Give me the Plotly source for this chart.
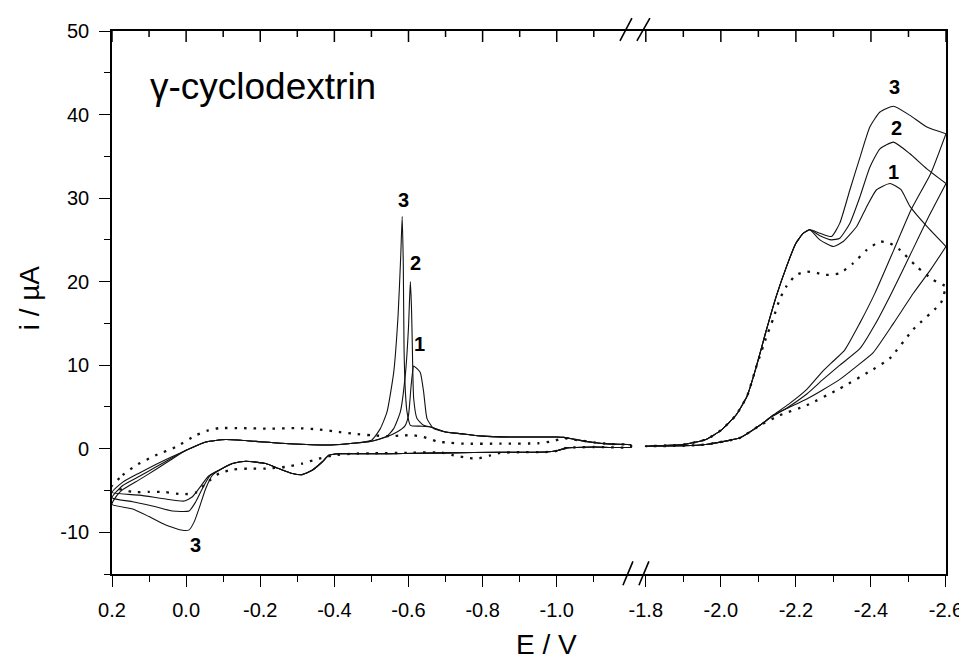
import plotly.graph_objects as go

# ---------------- data (E / V, i / uA) ----------------
# Left window: 0.2 .. -1.2 V  (upper branch = negative-going scan, lower branch = return)
E_L1_UP = [0.2, 0.171, 0.126, 0.082, 0.04, 0.0, -0.053, -0.107, -0.188, -0.277, -0.39, -0.45, -0.5, -0.54, -0.569, -0.59,
           -0.6, -0.607, -0.614, -0.62, -0.632, -0.641, -0.65, -0.668, -0.7, -0.75, -0.8, -0.88, -0.97, -1.0, -1.018,
           -1.04, -1.063, -1.1, -1.15, -1.2]
I_L1_UP = [-5.24, -4.0, -2.9, -1.9, -1.0, -0.2, 0.8, 1.1, 0.87, 0.6, 0.45, 0.65, 0.9, 1.4, 2.0, 2.7,
           4.0, 7.5, 9.9, 9.7, 9.1, 6.75, 3.6, 2.4, 2.0, 1.75, 1.5, 1.4, 1.4, 1.4, 1.35,
           1.2, 1.0, 0.75, 0.55, 0.45]
E_L1_DN = [-1.2, -1.1, -1.05, -1.027, -1.0, -0.97, -0.85, -0.7, -0.55, -0.45, -0.412, -0.385, -0.367, -0.34, -0.313,
           -0.287, -0.25, -0.215, -0.161, -0.125, -0.089, -0.06, -0.035, -0.017, 0.005, 0.055, 0.126, 0.2]
I_L1_DN = [0.2, 0.2, 0.15, 0.1, -0.25, -0.4, -0.42, -0.5, -0.6, -0.6, -0.6, -0.79, -1.59, -2.58, -3.1,
           -2.97, -2.38, -1.78, -1.5, -1.78, -2.58, -3.3, -4.76, -5.75, -6.27, -6.03, -5.56, -5.24]

E_L2_UP = [0.2, 0.171, 0.126, 0.082, 0.04, 0.0, -0.053, -0.107, -0.188, -0.277, -0.39, -0.45, -0.5, -0.542, -0.56, -0.578,
           -0.592, -0.6, -0.605, -0.608, -0.61, -0.614, -0.623, -0.641, -0.66, -0.7, -0.75, -0.8, -0.88, -0.97, -1.0,
           -1.018, -1.04, -1.063, -1.1, -1.15, -1.2]
I_L2_UP = [-5.87, -4.4, -3.3, -2.2, -1.15, -0.2, 0.8, 1.1, 0.87, 0.6, 0.45, 0.65, 0.9, 1.5, 2.4, 4.4,
           9.1, 14.5, 20.0, 17.0, 13.1, 6.0, 3.6, 2.8, 2.6, 2.0, 1.75, 1.5, 1.4, 1.4, 1.4,
           1.35, 1.2, 1.0, 0.75, 0.55, 0.45]
E_L2_DN = [-1.2, -1.1, -1.05, -1.027, -1.0, -0.97, -0.85, -0.7, -0.55, -0.45, -0.412, -0.385, -0.367, -0.34, -0.313,
           -0.287, -0.25, -0.215, -0.161, -0.125, -0.089, -0.065, -0.044, -0.026, -0.008, 0.037, 0.082, 0.144, 0.2]
I_L2_DN = [0.2, 0.2, 0.15, 0.1, -0.25, -0.4, -0.42, -0.5, -0.6, -0.6, -0.6, -0.79, -1.59, -2.58, -3.1,
           -2.97, -2.38, -1.78, -1.5, -1.78, -2.58, -3.2, -4.76, -6.35, -7.46, -7.46, -6.94, -6.35, -5.87]

E_L3_UP = [0.2, 0.185, 0.171, 0.126, 0.082, 0.04, 0.0, -0.053, -0.107, -0.188, -0.277, -0.39, -0.45, -0.5, -0.524,
           -0.542, -0.56, -0.572, -0.579, -0.583, -0.586, -0.588, -0.592, -0.596, -0.605, -0.63, -0.659, -0.7, -0.75,
           -0.8, -0.88, -0.97, -1.0, -1.018, -1.04, -1.063, -1.1, -1.15, -1.2]
I_L3_UP = [-6.67, -5.5, -4.9, -3.7, -2.5, -1.3, -0.2, 0.8, 1.1, 0.87, 0.6, 0.45, 0.65, 1.0, 2.4,
           4.4, 9.1, 16.0, 23.0, 27.8, 22.0, 12.0, 6.5, 4.4, 2.8, 2.7, 2.6, 2.0, 1.75,
           1.5, 1.4, 1.4, 1.4, 1.35, 1.2, 1.0, 0.75, 0.55, 0.45]
E_L3_DN = [-1.2, -1.1, -1.05, -1.027, -1.0, -0.97, -0.85, -0.7, -0.55, -0.45, -0.412, -0.385, -0.367, -0.34, -0.313,
           -0.287, -0.25, -0.215, -0.161, -0.125, -0.089, -0.071, -0.053, -0.035, -0.022, -0.008, 0.01, 0.055, 0.1,
           0.144, 0.2]
I_L3_DN = [0.2, 0.2, 0.15, 0.1, -0.25, -0.4, -0.42, -0.5, -0.6, -0.6, -0.6, -0.79, -1.59, -2.58, -3.1,
           -2.97, -2.38, -1.78, -1.5, -1.78, -2.58, -3.17, -4.76, -7.14, -8.73, -9.72, -9.76, -9.13, -8.13,
           -7.22, -6.67]

E_L0_UP = [0.2, 0.171, 0.135, 0.082, 0.028, -0.026, -0.06, -0.089, -0.15, -0.22, -0.3, -0.36, -0.412, -0.45, -0.5,
           -0.55, -0.587, -0.614, -0.641, -0.677, -0.713, -0.749, -0.85, -0.95, -0.99, -1.018, -1.04, -1.063, -1.1,
           -1.15, -1.2]
I_L0_UP = [-4.5, -3.17, -1.98, -0.79, 0.2, 1.6, 2.2, 2.46, 2.46, 2.4, 2.46, 2.3, 2.0, 1.8, 1.6,
           1.5, 1.6, 1.6, 1.4, 0.87, 0.7, 0.6, 0.6, 0.65, 0.9, 1.27, 1.1, 1.0, 0.75,
           0.55, 0.45]
E_L0_DN = [-1.2, -1.1, -1.05, -1.027, -1.0, -0.97, -0.9, -0.847, -0.821, -0.785, -0.758, -0.722, -0.686, -0.6, -0.5,
           -0.45, -0.4, -0.358, -0.313, -0.268, -0.215, -0.17, -0.125, -0.089, -0.053, -0.026, 0.01, 0.055, 0.1,
           0.135, 0.171, 0.2]
I_L0_DN = [0.2, 0.2, 0.15, 0.1, -0.25, -0.4, -0.42, -0.5, -0.8, -1.2, -1.1, -0.8, -0.45, -0.5, -0.55,
           -0.6, -0.79, -1.19, -1.78, -2.18, -2.38, -2.38, -2.5, -2.97, -4.17, -5.27, -5.46, -5.2, -5.16,
           -5.2, -4.96, -4.5]

# Right window: -1.8 .. -2.6 V (forward = negative-going, back = return)
E_R_START = [-1.8, -1.9, -1.96, -2.0, -2.04, -2.07, -2.095, -2.12, -2.148, -2.175, -2.2, -2.22, -2.237]
I_R_START = [0.3, 0.5, 1.1, 2.2, 4.0, 6.3, 9.9, 14.0, 18.3, 21.8, 24.6, 25.8, 26.2]

E_R1_FW = [-2.264, -2.3, -2.326, -2.362, -2.389, -2.415, -2.451, -2.48, -2.504, -2.549, -2.6]
I_R1_FW = [25.0, 24.2, 24.8, 26.6, 29.0, 31.0, 31.75, 31.0, 29.0, 26.6, 24.2]
E_R1_BK = [-2.6, -2.56, -2.513, -2.46, -2.406, -2.36, -2.317, -2.27, -2.229, -2.18, -2.139, -2.104, -2.051, -1.96, -1.9, -1.8]
I_R1_BK = [24.2, 21.5, 18.6, 15.0, 11.5, 9.8, 8.3, 7.0, 5.95, 4.9, 4.0, 2.8, 1.3, 0.5, 0.35, 0.3]

E_R2_FW = [-2.264, -2.295, -2.317, -2.344, -2.371, -2.397, -2.424, -2.46, -2.504, -2.549, -2.6]
I_R2_FW = [25.5, 25.0, 25.2, 27.0, 30.2, 33.7, 35.9, 36.7, 35.3, 33.5, 31.75]
E_R2_BK = [-2.6, -2.554, -2.511, -2.455, -2.41, -2.371, -2.317, -2.27, -2.229, -2.18, -2.139, -2.104, -2.051, -1.96, -1.9, -1.8]
I_R2_BK = [31.75, 27.8, 23.8, 18.65, 14.8, 12.0, 10.0, 8.2, 6.55, 5.0, 3.9, 2.8, 1.3, 0.5, 0.35, 0.3]

E_R3_FW = [-2.264, -2.295, -2.317, -2.344, -2.371, -2.397, -2.424, -2.46, -2.504, -2.549, -2.6]
I_R3_FW = [25.8, 25.4, 27.0, 31.0, 34.9, 38.5, 40.3, 41.0, 39.9, 38.5, 37.7]
E_R3_BK = [-2.6, -2.56, -2.507, -2.461, -2.411, -2.37, -2.33, -2.30, -2.27, -2.229, -2.18, -2.139, -2.104, -2.051, -1.96, -1.9, -1.8]
I_R3_BK = [37.7, 33.0, 28.6, 23.8, 18.65, 15.0, 11.8, 10.5, 9.2, 7.1, 5.3, 4.0, 2.8, 1.3, 0.5, 0.35, 0.3]

E_R0_FW = [-1.8, -1.9, -1.96, -2.0, -2.04, -2.07, -2.095, -2.12, -2.139, -2.157, -2.175, -2.2, -2.229, -2.25, -2.28,
           -2.317, -2.353, -2.389, -2.424, -2.45, -2.477, -2.522, -2.566, -2.6]
I_R0_FW = [0.3, 0.5, 1.1, 2.2, 4.0, 6.3, 9.9, 13.2, 15.5, 17.9, 19.45, 20.8, 21.2, 21.1, 20.8,
           21.0, 22.2, 23.8, 24.8, 24.6, 23.8, 21.8, 20.2, 19.45]
E_R0_BK = [-2.6, -2.587, -2.513, -2.45, -2.406, -2.317, -2.229, -2.157, -2.104, -2.051, -1.96, -1.9, -1.8]
I_R0_BK = [19.45, 17.5, 14.3, 10.8, 9.5, 7.2, 5.2, 4.0, 2.8, 1.3, 0.5, 0.35, 0.3]

# axis ticks
X_LEFT_TICKS = [0.2, 0.0, -0.2, -0.4, -0.6, -0.8, -1.0]
X_LEFT_LABELS = ["0.2", "0.0", "-0.2", "-0.4", "-0.6", "-0.8", "-1.0"]
X_LEFT_MINOR = [0.1, -0.1, -0.3, -0.5, -0.7, -0.9, -1.1]
X_RIGHT_TICKS = [-1.8, -2.0, -2.2, -2.4, -2.6]
X_RIGHT_LABELS = ["-1.8", "-2.0", "-2.2", "-2.4", "-2.6"]
X_RIGHT_MINOR = [-1.9, -2.1, -2.3, -2.5]
Y_TICKS = [-10, 0, 10, 20, 30, 40, 50]
Y_LABELS = ["-10", "0", "10", "20", "30", "40", "50"]
Y_MINOR = [-15, -5, 5, 15, 25, 35, 45]

# curve labels: (text, E, i, axis)
CURVE_LABELS = [("3", -0.587, 29.8, "L"), ("2", -0.619, 22.2, "L"), ("1", -0.630, 12.5, "L"),
                ("3", -0.026, -11.5, "L"),
                ("3", -2.464, 43.3, "R"), ("2", -2.469, 38.4, "R"), ("1", -2.461, 33.1, "R")]

# ---------------- figure ----------------
FONT = "Liberation Sans, Arial, sans-serif"
SPLIT = 0.6288
LEFT_RANGE = [0.2, -1.215]
RIGHT_RANGE = [-1.775, -2.6]
Y_RANGE = [-15, 50]

# plot-area geometry (screen pixels) used for decorations in paper coordinates
PX_L, PX_W, PX_B, PX_H = 111.0, 835.7, 572.7, 544.7
TOP_TICK_MAJOR = 11 / PX_H   # inward tick length on the top frame (paper units)
TOP_TICK_MINOR = 6 / PX_H


def px2paper(px, py):
    return (px - PX_L) / PX_W, (PX_B - py) / PX_H


solid = dict(color="#111111", width=1.1, shape="spline", smoothing=0.5)
dotted = dict(color="#111111", width=2.3, dash="2.5px,7px", shape="spline", smoothing=0.5)

fig = go.Figure()

left_sets = [(E_L0_UP + E_L0_DN, I_L0_UP + I_L0_DN, dotted),
             (E_L1_UP + E_L1_DN, I_L1_UP + I_L1_DN, solid),
             (E_L2_UP + E_L2_DN, I_L2_UP + I_L2_DN, solid),
             (E_L3_UP + E_L3_DN, I_L3_UP + I_L3_DN, solid)]
for ex, iy, ln in left_sets:
    fig.add_trace(go.Scatter(x=ex, y=iy, mode="lines", line=ln, xaxis="x", yaxis="y",
                             showlegend=False, hoverinfo="skip"))

right_sets = [(E_R0_FW + E_R0_BK, I_R0_FW + I_R0_BK, dotted),
              (E_R_START + E_R1_FW + E_R1_BK, I_R_START + I_R1_FW + I_R1_BK, solid),
              (E_R_START + E_R2_FW + E_R2_BK, I_R_START + I_R2_FW + I_R2_BK, solid),
              (E_R_START + E_R3_FW + E_R3_BK, I_R_START + I_R3_FW + I_R3_BK, solid)]
for ex, iy, ln in right_sets:
    fig.add_trace(go.Scatter(x=ex, y=iy, mode="lines", line=ln, xaxis="x2", yaxis="y2",
                             showlegend=False, hoverinfo="skip"))

tickfont = dict(family=FONT, size=20, color="black")
common_x = dict(showline=True, mirror=True, linecolor="black", linewidth=1.6, showgrid=False,
                zeroline=False, tickcolor="black", tickwidth=1.4, tickfont=tickfont, tickmode="array",
                ticks="outside", ticklen=11, ticklabelstandoff=6)


def minor_ticks(vals, where):
    return dict(tickmode="array", tickvals=vals, ticks=where, ticklen=6, tickcolor="black", tickwidth=1.4)


fig.update_layout(
    width=967, height=659,
    margin=dict(l=104, r=20, t=21, b=93),
    paper_bgcolor="white", plot_bgcolor="rgba(0,0,0,0)",
    font=dict(family=FONT, color="black"),
    xaxis=dict(domain=[0, SPLIT], range=LEFT_RANGE, anchor="y",
               tickvals=X_LEFT_TICKS, ticktext=X_LEFT_LABELS,
               minor=minor_ticks(X_LEFT_MINOR, "outside"), **common_x),
    xaxis2=dict(domain=[SPLIT, 1], range=RIGHT_RANGE, anchor="y2",
                tickvals=X_RIGHT_TICKS, ticktext=X_RIGHT_LABELS,
                minor=minor_ticks(X_RIGHT_MINOR, "outside"), **common_x),
    yaxis=dict(range=Y_RANGE, anchor="x", showline=True, linecolor="black", linewidth=1.6,
               showgrid=False, zeroline=False, ticks="outside", ticklen=11, tickcolor="black",
               tickwidth=1.4, tickmode="array", tickvals=Y_TICKS, ticktext=Y_LABELS,
               tickfont=tickfont, ticklabelstandoff=6,
               minor=minor_ticks(Y_MINOR, "outside")),
    yaxis2=dict(range=Y_RANGE, domain=[0, 1], anchor="x2", side="right", showline=True,
                linecolor="black", linewidth=1.6, showgrid=False, zeroline=False,
                ticks="", showticklabels=False),
)

# inward ticks along the top frame, placed from the tick lists through the x axes
for xref, major, minor in [("x", X_LEFT_TICKS, X_LEFT_MINOR), ("x2", X_RIGHT_TICKS, X_RIGHT_MINOR)]:
    for vals, ln in [(major, TOP_TICK_MAJOR), (minor, TOP_TICK_MINOR)]:
        for v in vals:
            fig.add_shape(type="line", xref=xref, yref="paper", x0=v, x1=v, y0=1.0, y1=1.0 - ln,
                          line=dict(color="black", width=1.5), layer="above")

# curve number labels
for txt, ex, iy, ax in CURVE_LABELS:
    fig.add_annotation(text=f"<b>{txt}</b>", x=ex, y=iy,
                       xref="x" if ax == "L" else "x2", yref="y" if ax == "L" else "y2",
                       showarrow=False, font=dict(family=FONT, size=20, color="black"))

# panel label and axis titles
lx, ly = px2paper(147, 84)
fig.add_annotation(text="γ-cyclodextrin", xref="paper", yref="paper",
                   x=lx, y=ly, xanchor="left", yanchor="middle",
                   showarrow=False, font=dict(family=FONT, size=37, color="black"))
tx, ty = px2paper(546, 643)
fig.add_annotation(text="E / V", xref="paper", yref="paper",
                   x=tx, y=ty, xanchor="center", yanchor="middle",
                   showarrow=False, font=dict(family=FONT, size=28, color="black"))
yx, yy = px2paper(28, 296)
fig.add_annotation(text="i / µA", xref="paper", yref="paper", textangle=-90,
                   x=yx, y=yy, xanchor="center", yanchor="middle",
                   showarrow=False, font=dict(family=FONT, size=28, color="black"))

# axis break marks
BREAKS = [((623, 584), (633, 560)), ((639, 584), (649, 560)),
          ((620, 38), (632, 15)), ((637, 38), (650, 15))]
for p0, p1 in BREAKS:
    x0, y0 = px2paper(*p0)
    x1, y1 = px2paper(*p1)
    fig.add_shape(type="line", xref="paper", yref="paper", x0=x0, y0=y0, x1=x1, y1=y1,
                  line=dict(color="black", width=1.6))

fig.write_html("out.html")
